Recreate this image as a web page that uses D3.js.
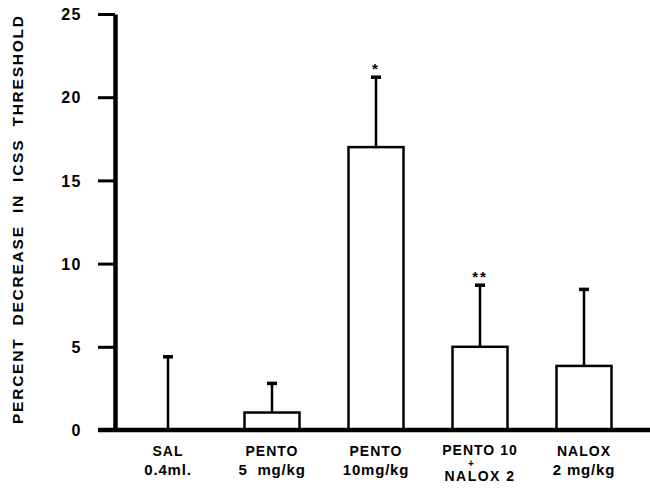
<!DOCTYPE html>
<html>
<head>
<meta charset="utf-8">
<script src="https://cdn.jsdelivr.net/npm/d3@7"></script>
<style>
  body { margin: 0; background: #fff; }
  text { font-family: "Liberation Sans", Arial, sans-serif; font-weight: bold; fill: #000; white-space: pre; }
</style>
</head>
<body>
<script>
// groups along the x axis, each label split into lines
var groups = ["SAL", "PENTO5", "PENTO10", "PENTO10+NALOX2", "NALOX2"]
var labelLines = [["SAL", "0.4ml."], ["PENTO", "5  mg/kg"], ["PENTO", "10mg/kg"], ["PENTO 10", "+", "NALOX 2"], ["NALOX", "2 mg/kg"]]
var means = [0, 1.05, 17.0, 5.0, 3.85]
var sems = [4.4, 1.75, 4.2, 3.7, 4.6]
var marks = ["", "", "*", "**", ""]
var yTicks = [0, 5, 10, 15, 20, 25]

var width = 650, height = 489
var svg = d3.select("body").append("svg")
  .attr("width", width)
  .attr("height", height)

var y = d3.scaleLinear().domain([0, 25]).range([430, 14])
var x = d3.scalePoint().domain(groups).range([168, 584])
var barW = 55

var data = groups.map(function(g, i) {
  return {g: g, mean: means[i], sem: sems[i], mark: marks[i], lines: labelLines[i]}
})

// y axis
var yAxis = svg.append("g")
  .attr("transform", "translate(115,0)")
  .call(d3.axisLeft(y).tickValues(yTicks).tickSize(17).tickSizeOuter(0).tickPadding(16))
yAxis.select(".domain").attr("stroke-width", 4.5)
yAxis.selectAll(".tick line").attr("stroke-width", 3)
yAxis.selectAll(".tick text")
  .style("font-size", "16px")
  .attr("letter-spacing", "1.5px")
  .attr("dy", "0.36em")

svg.append("text")
  .attr("transform", "translate(23," + 220 + ") rotate(-90)")
  .attr("text-anchor", "middle")
  .attr("textLength", 408)
  .attr("lengthAdjust", "spacing")
  .style("font-size", "15.5px")
  .text("PERCENT  DECREASE  IN  ICSS  THRESHOLD")

// bars
var g = svg.append("g")
g.selectAll("rect.bar")
  .data(data.filter(d => d.mean > 0))
  .enter().append("rect")
  .attr("class", "bar")
  .attr("x", d => x(d.g) - barW / 2)
  .attr("width", barW)
  .attr("y", d => y(d.mean))
  .attr("height", d => y(0) - y(d.mean))
  .attr("fill", "#fff")
  .attr("stroke", "#000")
  .attr("stroke-width", 2.5)

// error bars, upper half only
g.selectAll("line.whisker")
  .data(data)
  .enter().append("line")
  .attr("class", "whisker")
  .attr("x1", d => x(d.g)).attr("x2", d => x(d.g))
  .attr("y1", d => y(d.mean)).attr("y2", d => y(d.mean + d.sem))
  .attr("stroke", "#000").attr("stroke-width", 2.5)
g.selectAll("line.cap")
  .data(data)
  .enter().append("line")
  .attr("class", "cap")
  .attr("x1", d => x(d.g) - 5).attr("x2", d => x(d.g) + 5)
  .attr("y1", d => y(d.mean + d.sem)).attr("y2", d => y(d.mean + d.sem))
  .attr("stroke", "#000").attr("stroke-width", 3.5)

g.selectAll("text.mark")
  .data(data.filter(d => d.mark))
  .enter().append("text")
  .attr("class", "mark")
  .attr("x", d => x(d.g))
  .attr("y", d => y(d.mean + d.sem) - 3)
  .attr("text-anchor", "middle")
  .attr("letter-spacing", "2px")
  .style("font-size", "15px")
  .text(d => d.mark)

// baseline
svg.append("line")
  .attr("x1", 98).attr("x2", width)
  .attr("y1", y(0)).attr("y2", y(0))
  .attr("stroke", "#000").attr("stroke-width", 4.5)

// category labels
var lab = svg.selectAll("g.lab")
  .data(data)
  .enter().append("g")
  .attr("class", "lab")
  .attr("transform", d => "translate(" + x(d.g) + ",0)")
lab.each(function(d) {
  var el = d3.select(this)
  if (d.lines.length == 2) {
    el.append("text").attr("y", 456).attr("text-anchor", "middle")
      .attr("letter-spacing", "1px").style("font-size", "14px").text(d.lines[0])
    el.append("text").attr("y", 475).attr("text-anchor", "middle")
      .attr("letter-spacing", "0.8px").style("font-size", "15px").text(d.lines[1])
  } else {
    el.append("text").attr("y", 455).attr("text-anchor", "middle")
      .attr("letter-spacing", "1px").style("font-size", "14px").text(d.lines[0])
    el.append("text").attr("x", -9).attr("y", 467).attr("text-anchor", "middle")
      .style("font-size", "10px").text(d.lines[1])
    el.append("text").attr("y", 481).attr("text-anchor", "middle")
      .attr("letter-spacing", "1.5px").style("font-size", "14px").text(d.lines[2])
  }
})
</script>
</body>
</html>
